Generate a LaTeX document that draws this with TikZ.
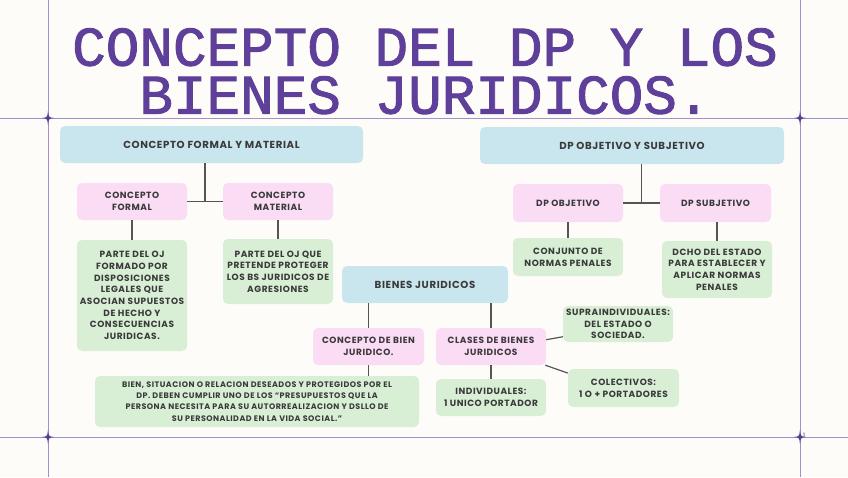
\documentclass[tikz,border=0pt]{standalone}
\usepackage{fontspec}
\setmainfont{Poppins}[LetterSpace=6]
\newfontfamily\titlefont[FakeBold=1.6]{Liberation Mono}
\usepackage{tikz}
\usetikzlibrary{calc}
\usepackage{xcolor}
\definecolor{paper}{HTML}{FDFCF8}
\definecolor{frameline}{HTML}{A390CC}
\definecolor{starpurple}{HTML}{5B3D98}
\definecolor{titlepurple}{HTML}{5E3F9A}
\definecolor{headblue}{HTML}{C9E6EE}
\definecolor{subpink}{HTML}{FBDCF5}
\definecolor{leafgreen}{HTML}{D8EFD5}
\definecolor{ink}{HTML}{3A3A3A}
\definecolor{linegray}{HTML}{555555}

\begin{document}
\begin{tikzpicture}[x=1pt, y=-1pt,
	box/.style={rounded corners=5pt, align=center, inner sep=0pt, text=ink,
		font=\bfseries\fontsize{9}{11.7}\selectfont},
	head/.style={box, fill=headblue, font=\bfseries\fontsize{10.2}{12}\selectfont},
	sub/.style={box, fill=subpink},
	leaf/.style={box, fill=leafgreen},
	conn/.style={draw=linegray, line width=1.2pt},
	titletext/.style={anchor=north, inner sep=0pt, align=center, text=titlepurple,
		font=\titlefont\fontsize{56}{48}\selectfont}]
			\useasboundingbox (0,0) rectangle (848,477);
			\fill[paper] (0,0) rectangle (848,477);

			% frame lines and stars
			\draw[frameline, line width=0.9pt] (48,0) -- (48,477);
			\draw[frameline, line width=0.9pt] (800,0) -- (800,477);
			\draw[frameline, line width=0.9pt] (0,118) -- (848,118);
			\draw[frameline, line width=0.9pt] (0,437) -- (848,437);
			\foreach \p in {(48,118),(800,118),(48,437),(800,437)}
				\fill[starpurple, shift={\p}] (0,-7) .. controls (0.7,-0.7) .. (6,0)
					.. controls (0.7,0.7) .. (0,7) .. controls (-0.7,0.7) .. (-6,0)
					.. controls (-0.7,-0.7) .. (0,-7) -- cycle;
			\node[font=\fontsize{6}{6}\selectfont, text=ink] (pagenum) at (804,435) {1};

			% title
			\node[titletext] (title) at (425,28) {CONCEPTO DEL DP Y LOS\\BIENES JURIDICOS.};

			% Left block: concepto formal y material
			\node[head, minimum width=303, minimum height=37] (cfm) at (211.5,144.5) {CONCEPTO FORMAL Y MATERIAL};
			\node[sub, minimum width=110, minimum height=37] (cf) at (132,201.5) {CONCEPTO\\FORMAL};
			\node[sub, minimum width=110, minimum height=37] (cm) at (278,201.5) {CONCEPTO\\MATERIAL};
			\node[leaf, minimum width=110, minimum height=111] (gf) at (132,295.5)
				{PARTE DEL OJ\\FORMADO POR\\DISPOSICIONES\\LEGALES QUE\\ASOCIAN SUPUESTOS\\DE HECHO Y\\CONSECUENCIAS\\JURIDICAS.};
			\node[leaf, minimum width=110, minimum height=65] (gm) at (278,271.5)
				{PARTE DEL OJ QUE\\PRETENDE PROTEGER\\LOS BS JURIDICOS DE\\AGRESIONES};
			\coordinate (jl) at ($(cf.east)!0.5!(cm.west)$);
			\draw[conn] (cf.east) -- (cm.west);
			\draw[conn] (jl) -- (jl |- cfm.south);
			\draw[conn] (cf.south) -- (gf.north);
			\draw[conn] (cm.south) -- (gm.north);

			% Right block: DP objetivo y subjetivo
			\node[head, minimum width=304, minimum height=37] (dpos) at (632,145.5) {DP OBJETIVO Y SUBJETIVO};
			\node[sub, minimum width=110, minimum height=38] (dpo) at (568,203) {DP OBJETIVO};
			\node[sub, minimum width=111, minimum height=38] (dps) at (715.5,203) {DP SUBJETIVO};
			\node[leaf, minimum width=110, minimum height=38] (gdpo) at (568,257) {CONJUNTO DE\\NORMAS PENALES};
			\node[leaf, minimum width=110, minimum height=57] (gdps) at (717,269.5)
				{DCHO DEL ESTADO\\PARA ESTABLECER Y\\APLICAR NORMAS\\PENALES};
			\coordinate (jr) at ($(dpo.east)!0.5!(dps.west)$);
			\draw[conn] (dpo.east) -- (dps.west);
			\draw[conn] (jr) -- (jr |- dpos.south);
			\draw[conn] (dpo.south) -- (gdpo.north);
			\draw[conn] (dps.south -| gdps.north) -- (gdps.north);

			% Middle block: bienes juridicos
			\node[head, minimum width=166, minimum height=37] (bj) at (425,284.5) {BIENES JURIDICOS};
			\node[sub, minimum width=111, minimum height=37] (cbj) at (368.5,346.5) {CONCEPTO DE BIEN\\JURIDICO.};
			\node[sub, minimum width=110, minimum height=37] (cl) at (491,346.5) {CLASES DE BIENES\\JURIDICOS};
			\node[leaf, minimum width=324, minimum height=51, font=\bfseries\fontsize{8}{11.3}\selectfont] (gbj) at (257,401.5)
				{BIEN, SITUACION O RELACION DESEADOS Y PROTEGIDOS POR EL\\DP. DEBEN CUMPLIR UNO DE LOS ``PRESUPUESTOS QUE LA\\PERSONA NECESITA PARA SU AUTORREALIZACION Y DSLLO DE\\SU PERSONALIDAD EN LA VIDA SOCIAL.''};
			\node[leaf, minimum width=110, minimum height=37] (gind) at (491,397.5) {INDIVIDUALES:\\1 UNICO PORTADOR};
			\node[leaf, minimum width=110, minimum height=36] (gsup) at (618,324) {SUPRAINDIVIDUALES:\\DEL ESTADO O\\SOCIEDAD.};
			\node[leaf, minimum width=111, minimum height=38] (gcol) at (623.5,388) {COLECTIVOS:\\1 O + PORTADORES};
			\draw[conn] (cbj.north) -- (cbj.north |- bj.south);
			\draw[conn] (cl.north) -- (cl.north |- bj.south);
			\draw[conn] (cbj.south) -- (cbj.south |- gbj.north);
			\draw[conn] (cl.south) -- (gind.north);
			\draw[conn] (cl.7) -- (gsup.193);
			\draw[conn] (cl.-19) -- (gcol.165);
		\end{tikzpicture}
\end{document}
